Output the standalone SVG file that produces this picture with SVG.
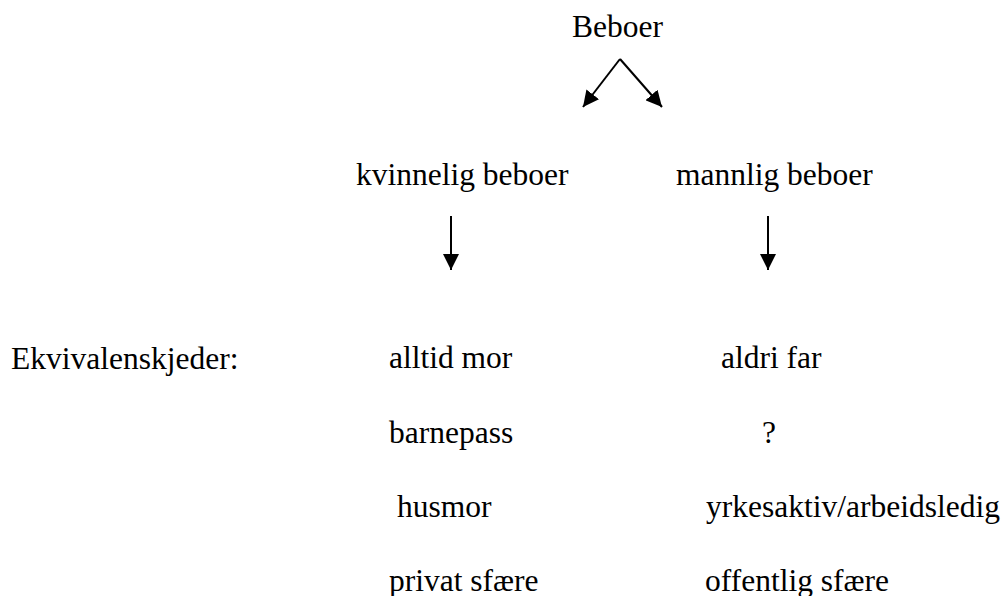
<svg xmlns="http://www.w3.org/2000/svg" width="1006" height="596" viewBox="0 0 1006 596">
  <style>
    text { font-family: "Liberation Serif", "Times New Roman", serif; font-size: 31.5px; fill: #000; white-space: pre; }
    .conn { stroke: #000; stroke-width: 2; fill: none; marker-end: url(#ah); }
  </style>
  <defs>
    <marker id="ah" markerUnits="userSpaceOnUse" markerWidth="17" markerHeight="16" refX="16" refY="8" orient="auto">
      <path d="M0,0 L16,8 L0,16 z" fill="#000"/>
    </marker>
  </defs>
  <rect width="1006" height="596" fill="#fff"/>
  <g id="connectors">
    <line class="conn" x1="620" y1="59" x2="583" y2="107"/>
    <line class="conn" x1="620" y1="59" x2="662" y2="107"/>
    <line class="conn" x1="451" y1="216" x2="451" y2="270"/>
    <line class="conn" x1="768" y1="216" x2="768" y2="270"/>
  </g>
  <g id="beboer"><text x="572" y="37">Beboer</text></g>
  <g id="kvinnelig"><text x="356" y="185">kvinnelig beboer</text></g>
  <g id="mannlig"><text x="676" y="185">mannlig beboer</text></g>
  <g id="ekvivalens"><text x="11" y="369">Ekvivalenskjeder:</text></g>
  <g id="kvinne-kjede">
    <text x="389" y="368">alltid mor</text>
    <text x="389" y="443">barnepass</text>
    <text x="389" y="517"> husmor</text>
    <text x="389" y="591">privat sfære</text>
  </g>
  <g id="mann-kjede">
    <text x="721" y="368">aldri far</text>
    <text x="762" y="443">?</text>
    <text x="706" y="517">yrkesaktiv/arbeidsledig</text>
    <text x="705" y="591">offentlig sfære</text>
  </g>
</svg>
